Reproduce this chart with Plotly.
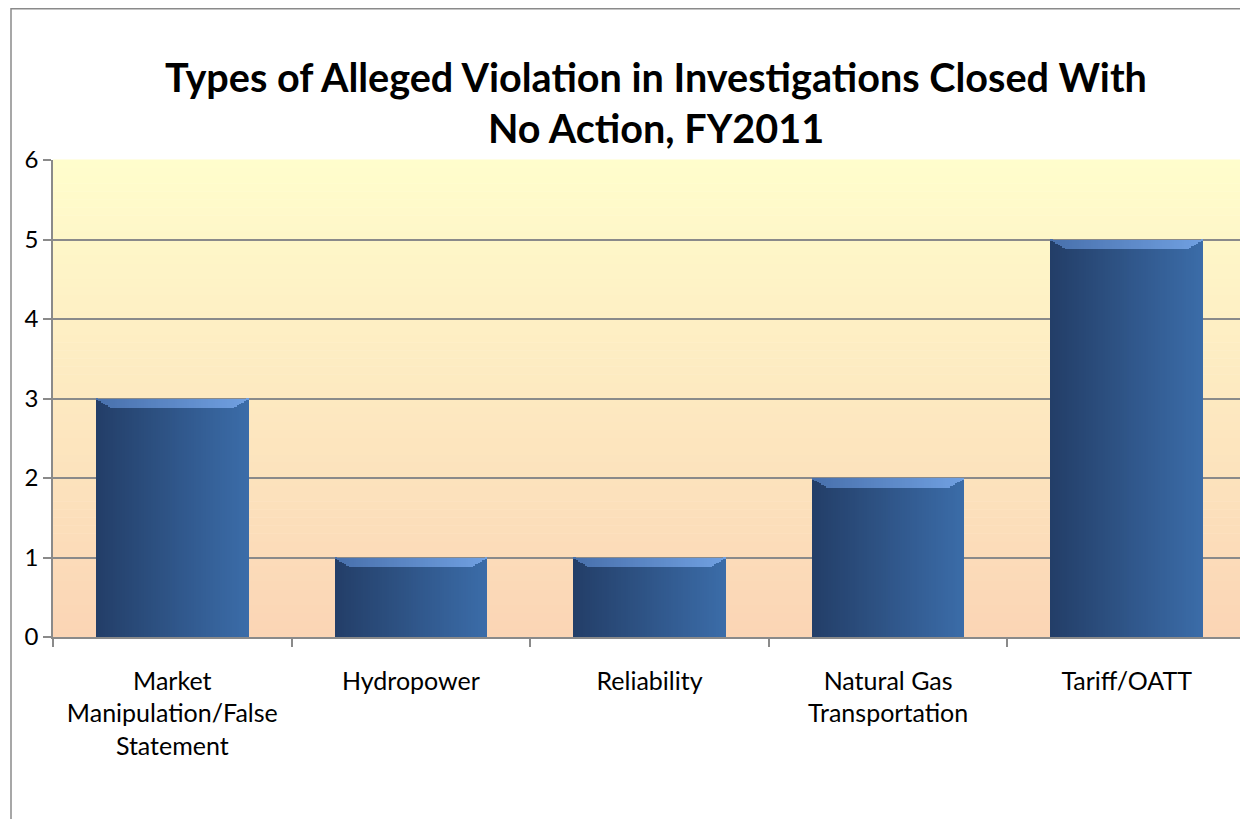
import plotly.graph_objects as go

categories = ["Market<br>Manipulation/False<br>Statement", "Hydropower", "Reliability",
              "Natural Gas<br>Transportation", "Tariff/OATT"]
values = [3, 1, 1, 2, 5]
y_ticks = [0, 1, 2, 3, 4, 5, 6]
title_text = "Types of Alleged Violation in Investigations Closed With<br>No Action, FY2011"

# page body has an 8px margin, so the figure is laid out 8px up/left
W, H = 1240, 811
L, R, T, B = 45, 2, 152, 182
pw, ph = W - L - R, H - T - B

def lerp(c1, c2, t):
    return "rgb(%d,%d,%d)" % tuple(round(a + (b - a) * t) for a, b in zip(c1, c2))

fig = go.Figure()

# gradient bars as vertical strips
bar_w = 0.64
N = 64
dark = (35, 62, 104)
light = (59, 108, 168)
bev_dark = (72, 112, 172)
bev_light = (112, 160, 225)
bevel = 0.12
ramp = 7
for i in range(N):
    t = i / (N - 1)
    off = -bar_w / 2 + i * bar_w / N
    fig.add_trace(go.Bar(
        x=categories, y=values, width=[bar_w / N] * len(values), offset=off,
        marker=dict(color=lerp(dark, light, t), line=dict(width=0)),
        hoverinfo="skip", showlegend=False))
    edge = min(i, N - 1 - i)
    h = bevel * min(1.0, (edge + 1) / ramp)
    fig.add_trace(go.Bar(
        x=categories, y=[h] * len(values), base=[v - h for v in values],
        width=[bar_w / N] * len(values), offset=off,
        marker=dict(color=lerp(bev_dark, bev_light, t), line=dict(width=0)),
        hoverinfo="skip", showlegend=False))

# background gradient of the plot area
shapes = []
S = 60
top_c = (255, 253, 204)
bot_c = (251, 213, 181)
for k in range(S):
    shapes.append(dict(type="rect", xref="x domain", yref="y domain",
                       x0=0, x1=1, y0=k / S, y1=(k + 1) / S + 0.001,
                       fillcolor=lerp(bot_c, top_c, k / (S - 1)),
                       line=dict(width=0), layer="below"))
# chart border
shapes.append(dict(type="rect", xref="paper", yref="paper",
                   x0=(3 - L) / pw, x1=(W + 20 - L) / pw,
                   y0=-(H + 20 - T - ph) / ph, y1=1 + (T - 0.8) / ph,
                   line=dict(color="#8a8a8a", width=1.5), fillcolor="rgba(0,0,0,0)"))

fig.update_layout(
    width=W, height=H,
    margin=dict(l=L, r=R, t=T, b=B, autoexpand=False),
    paper_bgcolor="white", plot_bgcolor="rgba(0,0,0,0)",
    barmode="overlay", bargap=0,
    shapes=shapes,
    font=dict(family="Lato, Calibri, sans-serif", size=25, color="black"),
    title=dict(text="<b>" + title_text + "</b>", x=648 / W, xanchor="center",
               y=1 - 84 / H, yanchor="top",
               font=dict(family="Lato, Calibri, sans-serif", size=39.6, color="black")),
    xaxis=dict(showgrid=False, showline=True, linecolor="#8a8a8a", linewidth=1.5,
               ticks="outside", ticklen=8, tickcolor="#8a8a8a", tickwidth=1.5,
               tickson="boundaries", tickfont=dict(size=25), ticklabelstandoff=21,
               automargin=False, fixedrange=True),
    yaxis=dict(range=[0, 6], tickvals=y_ticks, showgrid=True, gridcolor="#8a8a8a",
               gridwidth=1.5, showline=True, linecolor="#8a8a8a", linewidth=1.5,
               ticks="outside", ticklen=8, tickcolor="#8a8a8a", tickwidth=1.5,
               zeroline=False, tickfont=dict(size=24), ticklabelstandoff=0,
               automargin=False, fixedrange=True),
)

fig.write_html("out.html")
